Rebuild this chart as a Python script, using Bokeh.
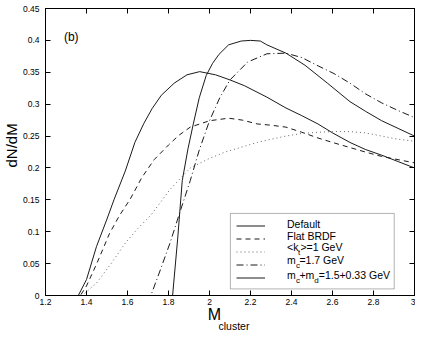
from bokeh.plotting import figure
from bokeh.models import (FixedTicker, LinearAxis, Label, Legend, LegendItem, Range1d, Title,
                          BoxAnnotation)
from bokeh.core.properties import value
from bokeh.embed import file_html
from bokeh.resources import INLINE

# ---------------- data ----------------
x_ticks = [1.2, 1.4, 1.6, 1.8, 2.0, 2.2, 2.4, 2.6, 2.8, 3.0]
x_tick_labels = ["1.2", "1.4", "1.6", "1.8", "2", "2.2", "2.4", "2.6", "2.8", "3"]
y_ticks = [0, 0.05, 0.1, 0.15, 0.2, 0.25, 0.3, 0.35, 0.4, 0.45]
y_tick_labels = ["0", "0.05", "0.1", "0.15", "0.2", "0.25", "0.3", "0.35", "0.4", "0.45"]

default_m = [1.2, 1.36, 1.40, 1.449, 1.50, 1.535, 1.589, 1.636, 1.68, 1.72, 1.765, 1.828,
             1.89, 1.952, 2.03, 2.10, 2.17, 2.28, 2.373, 2.45, 2.529, 2.60, 2.685, 2.76,
             2.84, 2.92, 3.0]
default_v = [0, 0, 0.025, 0.077, 0.12, 0.151, 0.195, 0.24, 0.27, 0.293, 0.314, 0.333,
             0.346, 0.351, 0.346, 0.338, 0.329, 0.311, 0.294, 0.282, 0.269, 0.255, 0.24, 0.229,
             0.22, 0.21, 0.2]

flat_m = [1.2, 1.37, 1.40, 1.45, 1.512, 1.56, 1.613, 1.67, 1.73, 1.80, 1.85, 1.906, 2.0,
          2.093, 2.16, 2.233, 2.30, 2.373, 2.45, 2.529, 2.60, 2.685, 2.76, 2.84, 2.92, 3.0]
flat_v = [0, 0, 0.015, 0.05, 0.097, 0.125, 0.151, 0.185, 0.213, 0.236, 0.251, 0.264, 0.274,
          0.278, 0.275, 0.269, 0.267, 0.264, 0.256, 0.247, 0.24, 0.232, 0.225, 0.218, 0.213, 0.208]

kt_m = [1.2, 1.38, 1.45, 1.52, 1.589, 1.65, 1.714, 1.807, 1.906, 2.0, 2.077, 2.16, 2.233,
        2.30, 2.373, 2.45, 2.53, 2.60, 2.685, 2.76, 2.84, 2.92, 3.0]
kt_v = [0, 0, 0.02, 0.05, 0.082, 0.105, 0.126, 0.166, 0.2, 0.215, 0.225, 0.233, 0.24,
        0.245, 0.25, 0.254, 0.256, 0.257, 0.257, 0.255, 0.25, 0.245, 0.242]

mc_m = [1.2, 1.714, 1.76, 1.807, 1.86, 1.906, 1.95, 2.0, 2.05, 2.1, 2.186, 2.28, 2.373,
        2.451, 2.53, 2.607, 2.685, 2.762, 2.84, 2.92, 3.0]
mc_v = [0, 0, 0.04, 0.082, 0.135, 0.18, 0.228, 0.274, 0.31, 0.338, 0.366, 0.379, 0.38,
        0.373, 0.36, 0.348, 0.333, 0.316, 0.302, 0.29, 0.279]

mcmd_m = [1.2, 1.82, 1.845, 1.867, 1.895, 1.921, 1.95, 1.984, 2.015, 2.046, 2.093, 2.155,
          2.20, 2.248, 2.28, 2.373, 2.466, 2.575, 2.685, 2.76, 2.84, 2.92, 3.0]
mcmd_v = [0, 0, 0.09, 0.18, 0.23, 0.269, 0.31, 0.345, 0.364, 0.378, 0.393, 0.399,
          0.4, 0.399, 0.393, 0.38, 0.361, 0.333, 0.304, 0.289, 0.274, 0.262, 0.25]

legend_texts = ["Default", "Flat BRDF", "<k", ">=1 GeV", "m", "=1.7 GeV",
                "m", "+m", "=1.5+0.33 GeV"]
legend_subs = ["t", "c", "c", "d"]

# ---------------- layout ----------------
W, H = 415, 330
BL, BR, BT, BB = 42, 1, 8, 35
X0, X1, Y0, Y1 = 1.2, 3.0, 0.0, 0.45
FW, FH = W - BL - BR, H - BT - BB
PXX = (X1 - X0) / FW      # data units per pixel (x)
PXY = (Y1 - Y0) / FH      # data units per pixel (y)

FONT = "Liberation Sans"
INK = "#1a1a1a"

p = figure(width=W, height=H, output_backend="svg", toolbar_location=None,
           x_range=Range1d(X0, X1), y_range=Range1d(Y0, Y1),
           min_border_left=BL, min_border_right=BR, min_border_top=BT, min_border_bottom=BB,
           x_axis_type=None, y_axis_type=None)
p.grid.visible = False
p.outline_line_color = "black"
p.background_fill_color = "white"
p.border_fill_color = "white"

xt = FixedTicker(ticks=x_ticks)
yt = FixedTicker(ticks=y_ticks)

def make_axis(ticker, labels, show_labels, standoff):
    ax = LinearAxis(ticker=ticker)
    ax.major_tick_in = 5
    ax.major_tick_out = 0
    ax.minor_tick_line_color = None
    ax.axis_line_color = "black"
    ax.major_tick_line_color = "black"
    if show_labels:
        ax.major_label_overrides = {t: l for t, l in zip(ticker.ticks, labels)}
        ax.major_label_text_font = FONT
        ax.major_label_text_font_size = "8.5px"
        ax.major_label_text_color = "black"
        ax.major_label_standoff = standoff
    else:
        ax.major_label_text_font_size = "0px"
        ax.major_label_standoff = 0
        ax.major_label_overrides = {t: "" for t in ticker.ticks}
    return ax

NB = "\u00a0"
xaxis = make_axis(xt, x_tick_labels, True, 3)
xaxis.axis_label = "M" + NB * 7
xaxis.axis_label_text_font = FONT
xaxis.axis_label_text_font_size = "16px"
xaxis.axis_label_text_font_style = "normal"
xaxis.axis_label_text_color = "black"
xaxis.axis_label_standoff = -2
p.add_layout(xaxis, "below")
p.add_layout(make_axis(yt, y_tick_labels, True, 6), "left")
p.add_layout(make_axis(xt, x_tick_labels, False, 0), "above")
p.add_layout(make_axis(yt, y_tick_labels, False, 0), "right")

# subscript of the x title
p.add_layout(Title(text="cluster", align="left", offset=173, standoff=-12,
                   vertical_align="top", text_font=FONT, text_font_size="10.5px",
                   text_font_style="normal", text_color="black"), "below")
# y axis title as a rotated side title
p.add_layout(Title(text="dN/dM", align="left", offset=128, standoff=0,
                   text_font=FONT, text_font_size="15px", text_font_style="normal",
                   text_color="black"), "left")

# legend frame (drawn beneath the curves; no curve passes through it)
box_l, box_r = X0 + 0.501 * (X1 - X0), X0 + 0.945 * (X1 - X0)
box_t, box_b = Y1 * (1 - 0.714), Y1 * (1 - 0.977)
p.add_layout(BoxAnnotation(left=box_l, right=box_r, top=box_t, bottom=box_b,
                           fill_color="white", fill_alpha=1.0, line_color="black",
                           line_width=1, level="underlay"))

r_def = p.line(default_m, default_v, line_color=INK, line_width=1)
r_flat = p.line(flat_m, flat_v, line_color=INK, line_width=1, line_dash="5 4")
r_kt = p.line(kt_m, kt_v, line_color="#666666", line_width=1, line_dash="1 3")
r_mc = p.line(mc_m, mc_v, line_color=INK, line_width=1, line_dash="7 3 1 3")
r_mcmd = p.line(mcmd_m, mcmd_v, line_color=INK, line_width=1)

# legend sample lines (transparent legend; frame and texts drawn separately)
box_left_px = (box_l - X0) / PXX
box_top_px = (box_t - Y0) / PXY
legend = Legend(items=[LegendItem(label=" ", renderers=[r]) for r in
                       (r_def, r_flat, r_kt, r_mc, r_mcmd)],
                location=(int(round(box_left_px + 4.7)), int(round(box_top_px - 71))),
                padding=3, spacing=0, glyph_width=29, glyph_height=13,
                label_height=13, label_width=20, label_standoff=0,
                border_line_color=None, background_fill_alpha=0.0, margin=0)
p.add_layout(legend)

# legend texts (main text and subscripts), offsets in pixels from the box
tx = X0 + 0.6545 * (X1 - X0)
rows = [11, 22.5, 33.5, 47, 62]
main_dx = [0, 0, 0, 13.5, 0, 12.5, 0, 12.5, 32]
main_row = [0, 1, 2, 2, 3, 3, 4, 4, 4]
sub_dx = [11, 9, 9, 27.5]
sub_row = [2, 3, 4, 4]
p.text(x=[tx + d * PXX for d in main_dx],
       y=[box_t - rows[r] * PXY for r in main_row],
       text=legend_texts, text_font=value(FONT), text_font_size=value("10.5px"),
       text_color="black", text_align="left", text_baseline="alphabetic")
p.text(x=[tx + d * PXX for d in sub_dx],
       y=[box_t - (rows[r] + 5.5) * PXY for r in sub_row],
       text=legend_subs, text_font=value(FONT), text_font_size=value("8px"),
       text_color="black", text_align="left", text_baseline="alphabetic")

# panel tag
p.add_layout(Label(x=X0 + 0.05 * (X1 - X0), y=Y1 * (1 - 0.125), text="(b)",
                   text_font=FONT, text_font_size="12px", text_color="black"))

open("out.html", "w").write(file_html(p, INLINE))
